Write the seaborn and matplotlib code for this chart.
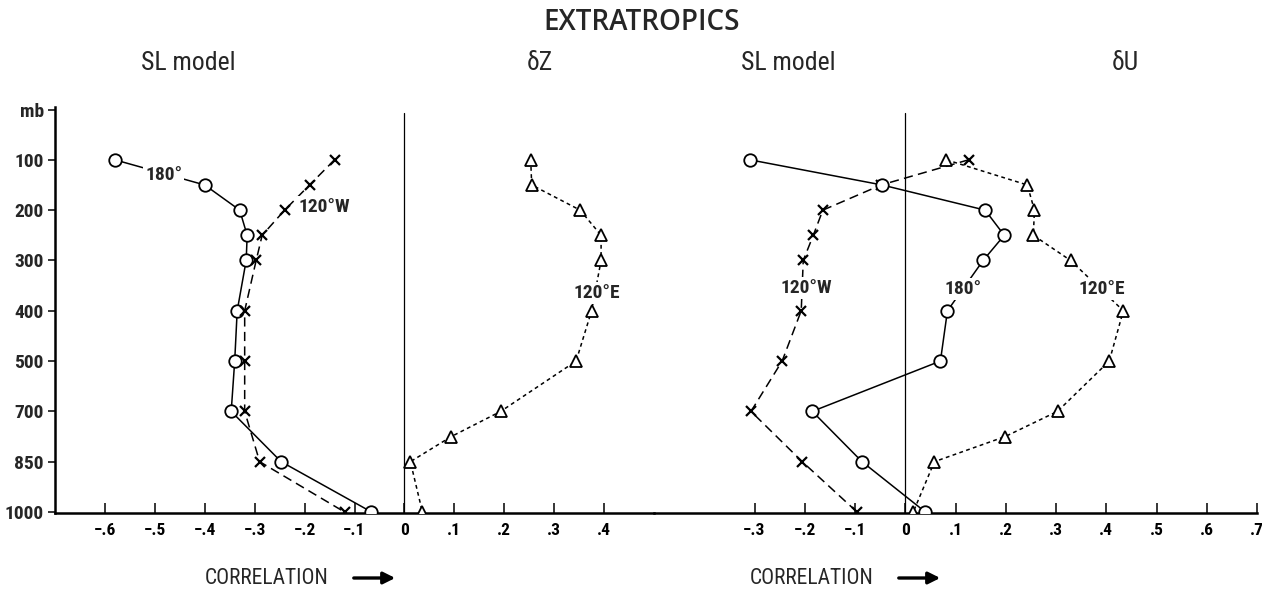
import numpy as np
import pandas as pd
import matplotlib
matplotlib.use("Agg")
import matplotlib.pyplot as plt
from matplotlib import font_manager
import seaborn as sns

# Pressure levels (mb) and the plotted axis ticks
levels = [100, 150, 200, 250, 300, 400, 500, 700, 850, 1000]
levels_u = [100, 150, 200, 250, 300, 400, 500, 700, 775, 850, 1000]
tick_levels = [100, 200, 300, 400, 500, 700, 850, 1000]

# Left panel: sea-level model correlations and delta-Z
sl_180_left = [-0.58, -0.40, -0.33, -0.315, -0.317, -0.335, -0.34, -0.347, -0.247, -0.066]
sl_120w_left = [-0.14, -0.19, -0.24, -0.285, -0.297, -0.32, -0.32, -0.32, -0.29, -0.12]
dz_120e = [0.253, 0.255, 0.352, 0.394, 0.394, 0.375, 0.344, 0.193, 0.094, 0.012, 0.036]

# Right panel: sea-level model correlations and delta-U
sl_180_right = [-0.309, -0.046, 0.159, 0.197, 0.155, 0.084, 0.07, -0.185, -0.086, 0.04]
sl_120w_right = [0.126, -0.048, -0.164, -0.183, -0.203, -0.207, -0.245, -0.307, -0.205, -0.096]
du_120e = [0.082, 0.243, 0.257, 0.255, 0.329, 0.434, 0.406, 0.303, 0.199, 0.058, 0.016]

left_xticks = [-0.6, -0.5, -0.4, -0.3, -0.2, -0.1, 0.0, 0.1, 0.2, 0.3, 0.4]
right_xticks = [-0.3, -0.2, -0.1, 0.0, 0.1, 0.2, 0.3, 0.4, 0.5, 0.6, 0.7]

sns.set_style("white")


def pick_family(cands):
    names = {f.name for f in font_manager.fontManager.ttflist}
    fams = [c for c in cands if c in names]
    return fams + ["DejaVu Sans"]


FAM = pick_family(["Liberation Sans Narrow", "Roboto Condensed", "Liberation Sans"])
TITLE_FAM = pick_family(["Open Sans"])
plt.rcParams["font.family"] = FAM
plt.rcParams["axes.unicode_minus"] = True


def ypos(p):
    """Map pressure onto the evenly spaced level axis."""
    return np.interp(p, tick_levels, np.arange(len(tick_levels)))


def fmt(v):
    if abs(v) < 1e-9:
        return "0"
    s = f"{abs(v):.1f}".lstrip("0")
    return ("\u2212" if v < 0 else "") + s


W, H = 1262, 591
fig = plt.figure(figsize=(W / 100, H / 100), dpi=100)
y_top, y_bot = 107, 513
axL = fig.add_axes([55 / W, (H - y_bot) / H, (654 - 55) / W, (y_bot - y_top) / H])
axR = fig.add_axes([654 / W, (H - y_bot) / H, (1257 - 654) / W, (y_bot - y_top) / H])

YLIM = (7.02, -1.05)


def series(ax, x, p, marker, dashes, ms, mew):
    df = pd.DataFrame({"corr": x, "lev": ypos(p)})
    sns.lineplot(data=df, x="corr", y="lev", sort=False, estimator=None, ax=ax,
                 color="black", lw=1.1, marker=marker, markersize=ms,
                 markerfacecolor="white", markeredgecolor="black",
                 markeredgewidth=mew, zorder=3)
    ln = ax.lines[-1]
    if dashes is not None:
        ln.set_dashes(dashes)


series(axL, sl_180_left, levels, "o", None, 9, 1.3)
series(axL, sl_120w_left, levels, "x", (6, 3.5), 7.5, 1.6)
series(axL, dz_120e, levels_u, "^", (2.5, 2.2), 8.5, 1.3)

series(axR, sl_120w_right, levels, "x", (6, 3.5), 7.5, 1.6)
series(axR, sl_180_right, levels, "o", None, 9, 1.3)
series(axR, du_120e, levels_u, "^", (2.5, 2.2), 8.5, 1.3)

for ax, xl, ticks in [(axL, (-0.7, 0.5), left_xticks), (axR, (-0.5, 0.7), right_xticks)]:
    ax.set_xlim(*xl)
    ax.set_ylim(*YLIM)
    ax.set_xlabel("")
    ax.set_ylabel("")
    ax.set_xticks(ticks)
    ax.set_xticklabels([fmt(t) for t in ticks], fontsize=12.5, fontweight="bold")
    ax.tick_params(axis="x", direction="in", length=7, width=1.1, pad=7,
                   bottom=True, colors="black")
    for s in ["top", "right"]:
        ax.spines[s].set_visible(False)
    ax.spines["bottom"].set_linewidth(1.8)
    ax.spines["bottom"].set_color("black")
    ax.plot([0, 0], [-0.93, YLIM[0]], color="black", lw=0.9, zorder=1)
    ax.set_facecolor("none")

axR.spines["left"].set_visible(False)
axR.set_yticks([])

# Pressure axis on the left panel
yt = list(range(len(tick_levels))) + [-1]
axL.set_yticks(yt)
axL.set_yticklabels([str(t) for t in tick_levels] + ["mb"], fontsize=14, fontweight="bold")
axL.tick_params(axis="y", direction="out", length=5, width=1.3, pad=3, left=True)
axL.spines["left"].set_linewidth(1.8)
axL.spines["left"].set_color("black")

# Curve labels
lab = dict(fontsize=14, fontweight="bold", ha="center", va="center", zorder=5,
           bbox=dict(boxstyle="square,pad=0.1", fc="white", ec="none"))
axL.text(-0.482, 0.30, "180°", **lab)
axL.text(-0.160, 0.93, "120°W", **lab)
axL.text(0.386, 2.64, "120°E", **lab)
axR.text(-0.197, 2.55, "120°W", **lab)
axR.text(0.116, 2.56, "180°", **lab)
axR.text(0.392, 2.57, "120°E", **lab)

# Titles
fig.text(642 / W, 1 - 23 / H, "EXTRATROPICS", fontsize=20, fontweight="semibold",
         ha="center", va="center", family=TITLE_FAM)
for xp, t in [(188, "SL model"), (540, "δZ"), (788, "SL model"), (1125, "δU")]:
    fig.text(xp / W, 1 - 63 / H, t, fontsize=18.5, ha="center", va="center")

# Axis captions with arrows
for x0 in (205, 750):
    fig.text(x0 / W, 1 - 578 / H, "CORRELATION", fontsize=15.5, ha="left", va="center")
    fig.add_artist(matplotlib.patches.FancyArrowPatch(
        ((x0 + 146) / W, 1 - 578 / H), ((x0 + 193) / W, 1 - 578 / H),
        transform=fig.transFigure, arrowstyle="-|>,head_length=7,head_width=3.5",
        color="black", lw=2.4, mutation_scale=1))

fig.savefig("out.png", dpi=100, facecolor="white")
